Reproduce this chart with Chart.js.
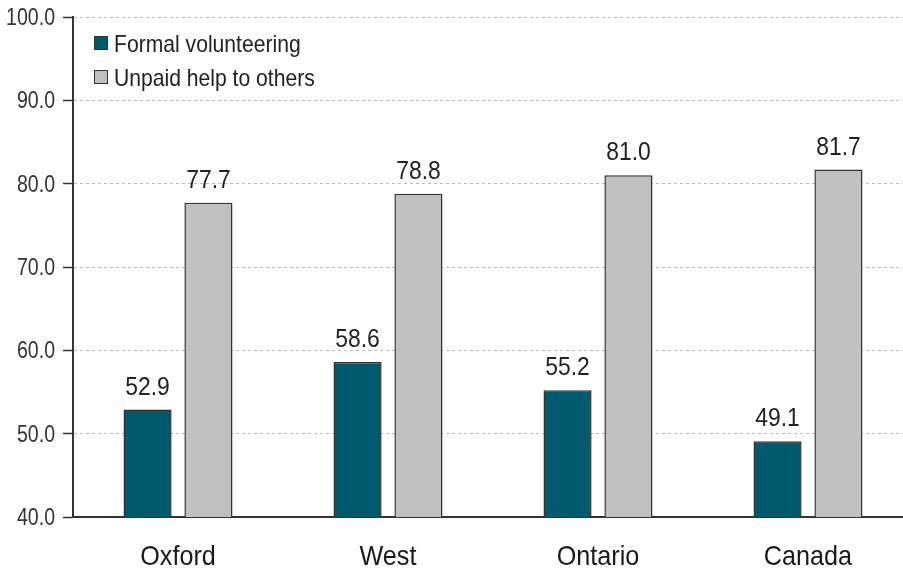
<!DOCTYPE html>
<html>
<head>
<meta charset="utf-8">
<script src="https://cdn.jsdelivr.net/npm/chart.js@4"></script>
<style>
  html, body { margin: 0; padding: 0; background: #fff; overflow: hidden; }
  #wrap { width: 920px; height: 573px; position: relative; }
</style>
</head>
<body>
<div id="wrap"><canvas id="c"></canvas></div>
<script>
const categories = ["Oxford", "West", "Ontario", "Canada"];
const seriesNames = ["Formal volunteering", "Unpaid help to others"];
const formalVolunteering = [52.9, 58.6, 55.2, 49.1];
const unpaidHelp = [77.7, 78.8, 81.0, 81.7];
const yTicks = [40, 50, 60, 70, 80, 90, 100];

const FONT = '"Liberation Sans", Arial, sans-serif';
const colors = ["#005a6e", "#c0c0c0"];

// draw horizontally condensed text (reference uses a narrow face)
function condensedText(ctx, text, x, y, size, factor, align, color) {
  ctx.save();
  ctx.font = size + 'px ' + FONT;
  ctx.fillStyle = color;
  ctx.textAlign = align;
  ctx.textBaseline = 'alphabetic';
  ctx.translate(x, y);
  ctx.scale(factor, 1);
  ctx.fillText(text, 0, 0);
  ctx.restore();
}

const condensedLabels = {
  id: 'condensedLabels',
  afterDraw(chart) {
    const ctx = chart.ctx;
    const a = chart.chartArea;
    const ys = chart.scales.y, xs = chart.scales.x;
    // y tick labels
    ys.ticks.forEach(t => {
      const py = ys.getPixelForValue(t.value);
      condensedText(ctx, Number(t.value).toFixed(1), ys.right - 18, py + 8, 23, 0.85, 'right', '#333');
    });
    // x tick labels
    xs.ticks.forEach((t, i) => {
      const px = xs.getPixelForTick(i);
      condensedText(ctx, categories[i], px, a.bottom + 48, 28, 0.9, 'center', '#1a1a1a');
    });
    // value labels
    chart.data.datasets.forEach((ds, di) => {
      chart.getDatasetMeta(di).data.forEach((el, i) => {
        condensedText(ctx, ds.data[i].toFixed(1), el.x, el.y - 15, 26, 0.88, 'center', '#222');
      });
    });
    // legend inside plot
    chart.data.datasets.forEach((ds, i) => {
      const cy = a.top + 26 + i * 34;
      const bx = a.left + 21;
      ctx.save();
      ctx.fillStyle = ds.backgroundColor;
      ctx.fillRect(bx, cy - 7, 14, 14);
      ctx.strokeStyle = '#333';
      ctx.lineWidth = 1;
      ctx.strokeRect(bx + 0.5, cy - 6.5, 13, 13);
      ctx.restore();
      condensedText(ctx, ds.label, bx + 20, cy + 9, 24, 0.88, 'left', '#222');
    });
  }
};

new Chart(document.getElementById('c'), {
  type: 'bar',
  data: {
    labels: categories,
    datasets: [
      { label: seriesNames[0], data: formalVolunteering, backgroundColor: colors[0], borderColor: '#333', borderWidth: 1.5 },
      { label: seriesNames[1], data: unpaidHelp, backgroundColor: colors[1], borderColor: '#333', borderWidth: 1.5 }
    ]
  },
  options: {
    responsive: true,
    maintainAspectRatio: false,
    animation: false,
    devicePixelRatio: 1,
    layout: { padding: { top: 17, right: 7, left: 0, bottom: 0 } },
    datasets: { bar: { categoryPercentage: 0.58, barPercentage: 0.79 } },
    plugins: {
      legend: { display: false },
      tooltip: { enabled: false }
    },
    scales: {
      x: {
        grid: { display: false, drawTicks: false },
        border: { display: true, color: '#333', width: 2 },
        ticks: { display: false },
        afterFit(s) { s.height = 56; }
      },
      y: {
        min: 40, max: 100,
        afterBuildTicks(s) { s.ticks = yTicks.map(v => ({ value: v })); },
        grid: { color: '#bbbbbb', lineWidth: 1, tickColor: '#333', tickLength: 10, tickWidth: 1.5 },
        border: { display: true, color: '#333', width: 2, dash: [3, 3] },
        ticks: { display: false },
        afterFit(s) { s.width = 73; }
      }
    }
  },
  plugins: [condensedLabels]
});
</script>
</body>
</html>
